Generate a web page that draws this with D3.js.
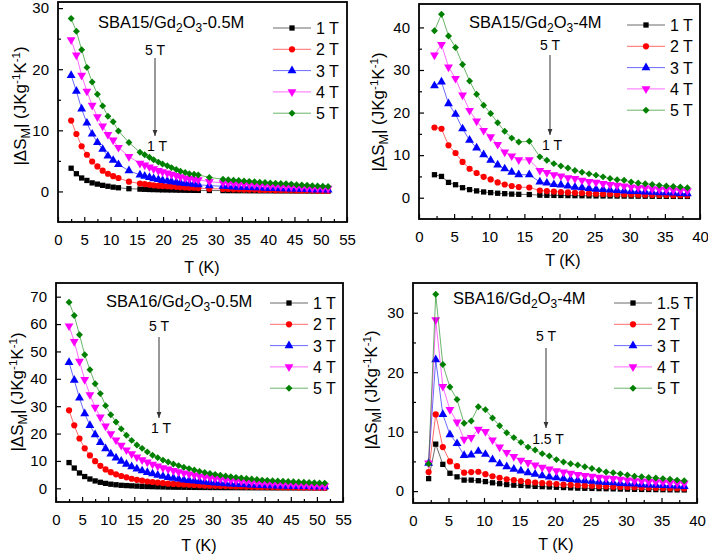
<!DOCTYPE html>
<html>
<head>
<meta charset="utf-8">
<script src="https://cdn.jsdelivr.net/npm/d3@7"></script>
<style>
body { margin: 0; background: #fff; }
text { font-family: Arial, "Liberation Sans", sans-serif; fill: #000; }
</style>
</head>
<body>
<div id="chart"></div>
<script>
// ---- SBA15/Gd2O3-0.5M ----
var tA = [2.5,3.5,4.5,5.5,6.5,7.5,8.5,9.5,10.5,11.5,13.5,
  15.6,16.5,17.4,18.2,19.1,19.9,20.8,21.6,22.5,23.3,24.2,25.0,25.9,26.7,28.8,
  31.4,32.4,33.4,34.4,35.4,36.4,37.4,38.4,39.4,40.4,41.4,42.4,43.4,44.4,45.4,46.4,47.4,48.4,49.4,50.4,51.4];
var a1T = [3.8,2.9,2.2,1.8,1.4,1.2,1.0,0.85,0.7,0.6,0.45,
  0.38,0.35,0.32,0.3,0.28,0.26,0.25,0.24,0.22,0.21,0.2,0.19,0.18,0.17,0.15,
  0.14,0.13,0.13,0.12,0.12,0.11,0.11,0.1,0.1,0.1,0.09,0.09,0.09,0.08,0.08,0.08,0.07,0.07,0.07,0.06,0.06];
var a2T = [11.6,9.4,7.4,6.0,4.9,4.1,3.4,2.9,2.5,2.2,1.6,
  1.3,1.2,1.1,1.0,0.95,0.9,0.85,0.8,0.75,0.7,0.65,0.6,0.6,0.55,0.45,
  0.4,0.4,0.35,0.35,0.3,0.3,0.3,0.25,0.25,0.25,0.2,0.2,0.2,0.2,0.15,0.15,0.15,0.15,0.1,0.1,0.1];
var a3T = [19.0,16.4,13.5,11.2,9.4,8.0,6.9,5.8,5.1,4.4,3.4,
  2.7,2.5,2.3,2.1,1.95,1.8,1.7,1.6,1.5,1.4,1.3,1.25,1.2,1.1,0.95,
  0.85,0.8,0.75,0.7,0.7,0.65,0.6,0.6,0.55,0.5,0.5,0.45,0.45,0.4,0.4,0.35,0.35,0.3,0.3,0.3,0.25];
var a4T = [24.8,22.3,19.0,16.4,14.1,12.2,10.7,9.3,8.4,7.2,5.7,
  4.6,4.3,4.0,3.7,3.4,3.2,3.0,2.8,2.6,2.4,2.2,2.1,2.0,1.9,1.6,
  1.4,1.35,1.3,1.25,1.2,1.15,1.1,1.05,1.0,0.95,0.9,0.85,0.8,0.8,0.75,0.7,0.65,0.6,0.6,0.55,0.5];
var a5T = [28.3,26.2,23.2,20.3,17.9,15.9,14.0,12.3,11.4,9.9,8.0,
  6.4,6.0,5.6,5.2,4.8,4.5,4.2,3.9,3.6,3.3,3.1,2.9,2.8,2.7,2.3,
  2.0,1.9,1.85,1.8,1.7,1.65,1.6,1.5,1.45,1.4,1.35,1.3,1.25,1.2,1.1,1.05,1.0,0.95,0.9,0.85,0.8];

// ---- SBA15/Gd2O3-4M ----
var tB = [2.2,3.2,4.2,5.2,6.2,7.2,8.2,9.2,10.2,11.2,12.2,13.2,14.2,15.7,
  17.2,18.2,19.2,20.2,21.2,22.2,23.2,24.2,25.2,26.2,27.2,28.2,29.2,30.2,31.2,32.2,33.2,34.2,35.2,36.2,37.2,38.2];
var b1T = [5.4,5.0,3.6,3.05,2.35,1.9,1.6,1.35,1.2,1.05,0.95,0.85,0.8,0.75,
  0.6,0.57,0.54,0.52,0.5,0.48,0.46,0.44,0.42,0.41,0.4,0.39,0.38,0.37,0.36,0.35,0.34,0.33,0.32,0.31,0.3,0.3];
var b2T = [16.5,16.2,12.3,10.5,8.4,6.8,5.8,4.9,4.3,3.6,3.1,2.75,2.5,2.4,
  1.7,1.55,1.45,1.35,1.25,1.15,1.1,1.0,0.95,0.9,0.85,0.8,0.78,0.75,0.72,0.7,0.67,0.65,0.62,0.6,0.58,0.55];
var b3T = [26.3,27.2,22.1,19.6,16.2,13.5,11.7,10.1,8.8,7.7,6.8,6.0,5.4,5.4,
  3.7,3.45,3.1,3.0,2.75,2.5,2.35,2.2,2.0,1.95,1.8,1.7,1.6,1.5,1.45,1.35,1.3,1.2,1.15,1.1,1.0,0.95];
var b4T = [33.5,36.0,30.7,28.0,24.1,20.5,18.0,15.8,14.3,12.5,10.7,9.8,8.9,8.9,
  6.4,5.9,5.4,5.1,4.7,4.5,4.1,3.8,3.6,3.3,3.1,2.9,2.75,2.5,2.35,2.3,2.1,2.0,1.9,1.8,1.7,1.65];
var b5T = [39.2,43.1,38.0,35.3,31.3,27.4,24.3,21.7,19.8,17.6,15.6,14.0,13.1,13.25,
  9.6,8.8,8.0,7.45,7.0,6.4,6.0,5.6,5.3,4.9,4.5,4.2,4.1,3.7,3.45,3.3,3.1,2.9,2.75,2.65,2.5,2.35];

// ---- SBA16/Gd2O3-0.5M ----
var tC = [2.5,3.5,4.5,5.5,6.5,7.5,8.5,9.5,10.5,11.5,12.5,13.5,14.5,15.5,16.5,17.5,18.5,19.5,20.5,21.5,
  22.5,23.5,24.5,25.5,26.5,27.5,28.5,29.5,30.5,31.5,32.5,33.5,34.5,35.5,36.5,37.5,38.5,39.5,40.5,41.5,
  42.5,43.5,44.5,45.5,46.5,47.5,48.5,49.5,50.5,51.5];
var c1T = [9.4,7.4,5.6,4.3,3.4,2.7,2.2,1.8,1.5,1.3,1.1,1.0,0.9,0.8,0.7,0.65,0.6,0.55,0.5,0.45,
  0.42,0.4,0.38,0.35,0.33,0.31,0.3,0.28,0.27,0.26,0.25,0.24,0.23,0.22,0.21,0.2,0.19,0.18,0.18,0.17,
  0.17,0.16,0.16,0.15,0.15,0.14,0.14,0.13,0.13,0.12];
var c2T = [28.5,23.0,18.2,14.6,12.0,9.9,8.2,6.9,5.9,5.1,4.5,4.0,3.5,3.1,2.8,2.5,2.3,2.1,1.9,1.7,
  1.6,1.5,1.4,1.3,1.2,1.1,1.0,0.95,0.9,0.85,0.8,0.75,0.7,0.65,0.6,0.55,0.5,0.5,0.45,0.45,
  0.4,0.4,0.35,0.35,0.3,0.3,0.3,0.25,0.25,0.25];
var c3T = [46.0,39.5,33.0,27.3,23.0,19.6,16.8,14.5,12.6,11.1,9.9,8.8,7.9,7.1,6.4,5.8,5.3,4.8,4.4,4.0,
  3.7,3.4,3.1,2.9,2.7,2.5,2.3,2.1,2.0,1.85,1.7,1.6,1.5,1.4,1.3,1.2,1.1,1.05,1.0,0.95,
  0.9,0.85,0.8,0.75,0.7,0.7,0.65,0.6,0.6,0.55];
var c4T = [59.3,53.6,46.4,39.7,34.2,29.6,26.0,22.7,19.9,17.6,15.7,14.0,12.6,11.4,10.4,9.6,8.8,8.1,7.5,7.0,
  6.5,6.0,5.6,5.2,4.8,4.5,4.2,3.9,3.6,3.4,3.2,3.0,2.8,2.6,2.4,2.3,2.1,2.0,1.9,1.8,
  1.7,1.6,1.5,1.4,1.3,1.2,1.1,1.0,0.95,0.9];
var c5T = [68.0,63.1,56.1,48.8,43.3,38.2,34.6,30.2,26.9,24.2,21.7,19.4,17.5,15.8,14.6,13.3,12.1,11.2,10.3,9.6,
  8.9,8.3,7.7,7.2,6.7,6.2,5.8,5.4,5.1,4.8,4.5,4.2,4.0,3.8,3.6,3.4,3.2,3.0,2.9,2.8,
  2.7,2.6,2.5,2.4,2.3,2.2,2.1,2.0,1.95,1.9];

// ---- SBA16/Gd2O3-4M ----
var tD = [2.2,3.2,4.2,5.2,6.2,7.2,8.2,9.2,10.2,11.2,12.2,13.2,14.2,15.2,16.2,17.2,18.2,19.2,20.2,21.2,
  22.2,23.2,24.2,25.2,26.2,27.2,28.2,29.2,30.2,31.2,32.2,33.2,34.2,35.2,36.2,37.2,38.2];
var d15T = [2.1,7.9,4.5,3.0,2.4,1.85,1.85,1.75,1.6,1.4,1.25,1.1,1.0,0.95,0.88,0.8,0.75,0.7,0.65,0.6,
  0.55,0.5,0.48,0.45,0.42,0.4,0.38,0.35,0.33,0.3,0.28,0.27,0.25,0.24,0.22,0.21,0.2];
var d2T = [3.2,12.9,7.4,5.0,4.2,3.1,3.2,3.25,2.85,2.5,2.25,2.0,1.85,1.7,1.55,1.45,1.35,1.3,1.2,1.1,
  1.05,1.0,0.95,0.9,0.85,0.8,0.75,0.7,0.68,0.65,0.6,0.58,0.55,0.52,0.5,0.48,0.45];
var d3T = [4.7,22.1,12.9,9.5,8.0,6.0,6.1,6.7,6.2,5.3,4.6,4.1,3.7,3.4,3.1,2.85,2.6,2.4,2.25,2.1,
  1.95,1.85,1.75,1.65,1.55,1.45,1.4,1.3,1.25,1.2,1.1,1.05,1.0,0.95,0.9,0.85,0.8];
var d4T = [4.7,28.8,17.6,13.7,11.6,8.7,9.0,10.4,10.0,8.6,7.4,6.5,5.8,5.2,4.8,4.4,4.0,3.7,3.4,3.2,
  3.0,2.8,2.6,2.5,2.3,2.2,2.1,2.0,1.85,1.75,1.7,1.6,1.55,1.5,1.4,1.35,1.3];
var d5T = [4.6,33.1,21.3,17.5,15.4,11.4,11.8,14.2,13.7,12.3,11.0,9.8,9.0,8.2,7.4,6.9,6.3,5.9,5.3,4.9,
  4.6,4.4,4.1,3.8,3.5,3.2,3.1,2.9,2.7,2.5,2.4,2.3,2.2,2.1,2.0,1.85,1.75];

var fieldsA = ["1 T","2 T","3 T","4 T","5 T"];
var fieldsD = ["1.5 T","2 T","3 T","4 T","5 T"];
var xTicks55 = [0,5,10,15,20,25,30,35,40,45,50,55];
var xTicks40 = [0,5,10,15,20,25,30,35,40];

var colors = ["#000000","#ff0000","#0000ff","#ff00ff","#008000"];

var svg = d3.select("#chart").append("svg")
    .attr("width", 708)
    .attr("height", 558);

var panels = [
  {title: ["SBA15/Gd","2","O","3","-0.5M"], T: tA, series: [a1T,a2T,a3T,a4T,a5T], names: fieldsA,
   left: 58, right: 347, top: 2, bottom: 222, xDom: [0,55], yDom: [-5,31],
   xTicks: xTicks55, yTicks: [0,10,20,30], yMinor: [5,15,25],
   titleX: 98, titleY: 28, legX: 273, legY: 28, ylabX: 26, ylabY: 106, xlabX: 202, xlabY: 273,
   arrow: {x: 155, t1: 55, y1: 58, y2: 136, t2: 151, lo: "1 T"}},
  {title: ["SBA15/Gd","2","O","3","-4M"], T: tB, series: [b1T,b2T,b3T,b4T,b5T], names: fieldsA,
   left: 419, right: 700, top: 4, bottom: 219, xDom: [0,40], yDom: [-5,45.5],
   xTicks: xTicks40, yTicks: [0,10,20,30,40], yMinor: [5,15,25,35],
   titleX: 469, titleY: 28, legX: 627, legY: 25, ylabX: 384, ylabY: 112, xlabX: 563, xlabY: 266,
   arrow: {x: 550, t1: 50, y1: 55, y2: 135, t2: 150, lo: "1 T"}},
  {title: ["SBA16/Gd","2","O","3","-0.5M"], T: tC, series: [c1T,c2T,c3T,c4T,c5T], names: fieldsA,
   left: 56, right: 343, top: 283, bottom: 502, xDom: [0,55], yDom: [-5,75],
   xTicks: xTicks55, yTicks: [0,10,20,30,40,50,60,70], yMinor: [],
   titleX: 106, titleY: 307, legX: 270, legY: 303, ylabX: 23, ylabY: 392, xlabX: 199, xlabY: 551,
   arrow: {x: 159, t1: 331, y1: 337, y2: 418, t2: 433, lo: "1 T"}},
  {title: ["SBA16/Gd","2","O","3","-4M"], T: tD, series: [d15T,d2T,d3T,d4T,d5T], names: fieldsD,
   left: 413, right: 697, top: 283, bottom: 503, xDom: [0,40], yDom: [-2,35],
   xTicks: xTicks40, yTicks: [0,10,20,30], yMinor: [5,15,25],
   titleX: 453, titleY: 304, legX: 614, legY: 303, ylabX: 377, ylabY: 390, xlabX: 556, xlabY: 550,
   arrow: {x: 546, t1: 341, y1: 348, y2: 428, t2: 444, lo: "1.5 T"}}
];

svg.append("defs").append("marker")
    .attr("id", "arrowhead")
    .attr("viewBox", "0 0 10 10")
    .attr("refX", 10).attr("refY", 5)
    .attr("markerWidth", 6).attr("markerHeight", 6)
    .attr("orient", "auto")
  .append("path")
    .attr("d", "M0,1 L10,5 L0,9 Z")
    .attr("fill", "#333");

function symbolPath(k) {
    if (k === 0) return d3.symbol().type(d3.symbolSquare).size(28)();
    if (k === 1) return d3.symbol().type(d3.symbolCircle).size(30)();
    if (k === 2 || k === 3) return d3.symbol().type(d3.symbolTriangle).size(34)();
    return d3.symbol().type(d3.symbolSquare).size(24)();
}
function symbolRot(k) {
    if (k === 3) return " rotate(180)";
    if (k === 4) return " rotate(45)";
    return "";
}

function drawPanel(p) {
    var x = d3.scaleLinear().domain(p.xDom).range([p.left, p.right]);
    var y = d3.scaleLinear().domain(p.yDom).range([p.bottom, p.top]);
    var g = svg.append("g");

    // series: line + markers
    p.series.forEach(function(vals, k) {
        var pts = p.T.map(function(t, i) { return [t, vals[i]]; });
        g.append("path")
            .datum(pts)
            .attr("fill", "none")
            .attr("stroke", colors[k])
            .attr("stroke-width", 0.9)
            .attr("stroke-opacity", 0.65)
            .attr("d", d3.line()
                .x(function(d) { return x(d[0]); })
                .y(function(d) { return y(d[1]); }));
        g.selectAll(".m" + k)
            .data(pts)
            .enter().append("path")
            .attr("class", "m" + k)
            .attr("d", symbolPath(k))
            .attr("fill", colors[k])
            .attr("transform", function(d) {
                return "translate(" + x(d[0]) + "," + y(d[1]) + ")" + symbolRot(k);
            });
    });

    // axes (ticks point inward)
    var minorX = [];
    for (var i = 0; i < p.xTicks.length - 1; i++) minorX.push((p.xTicks[i] + p.xTicks[i + 1]) / 2);
    g.append("g")
        .attr("transform", "translate(0," + p.bottom + ")")
        .call(d3.axisBottom(x).tickValues(p.xTicks).tickSize(-5).tickPadding(12));
    g.append("g")
        .attr("transform", "translate(0," + p.bottom + ")")
        .call(d3.axisBottom(x).tickValues(minorX).tickSize(-3).tickFormat(""));
    g.append("g")
        .attr("transform", "translate(" + p.left + ",0)")
        .call(d3.axisLeft(y).tickValues(p.yTicks).tickSize(-5).tickPadding(9));
    g.append("g")
        .attr("transform", "translate(" + p.left + ",0)")
        .call(d3.axisLeft(y).tickValues(p.yMinor).tickSize(-3).tickFormat(""));
    g.selectAll(".domain").remove();
    g.selectAll(".tick line").attr("stroke", "#000").attr("stroke-width", 1.2);
    g.selectAll(".tick text")
        .style("font-family", "Arial, 'Liberation Sans', sans-serif")
        .attr("font-size", 15)
        .attr("fill", "#000");

    // frame
    g.append("rect")
        .attr("x", p.left).attr("y", p.top)
        .attr("width", p.right - p.left).attr("height", p.bottom - p.top)
        .attr("fill", "none").attr("stroke", "#000").attr("stroke-width", 1.8);

    // title with subscripts
    var tt = g.append("text").attr("x", p.titleX).attr("y", p.titleY).attr("font-size", 16.5);
    tt.append("tspan").text(p.title[0]);
    tt.append("tspan").attr("dy", 4).attr("font-size", 12).text(p.title[1]);
    tt.append("tspan").attr("dy", -4).text(p.title[2]);
    tt.append("tspan").attr("dy", 4).attr("font-size", 12).text(p.title[3]);
    tt.append("tspan").attr("dy", -4).text(p.title[4]);

    // legend
    p.names.forEach(function(nm, k) {
        var ly = p.legY + k * 21.3;
        g.append("line")
            .attr("x1", p.legX).attr("x2", p.legX + 38)
            .attr("y1", ly).attr("y2", ly)
            .attr("stroke", colors[k]).attr("stroke-width", 0.9).attr("stroke-opacity", 0.65);
        g.append("path")
            .attr("d", symbolPath(k))
            .attr("fill", colors[k])
            .attr("transform", "translate(" + (p.legX + 19) + "," + ly + ")" + symbolRot(k));
        g.append("text")
            .attr("x", p.legX + 43).attr("y", ly + 6)
            .attr("font-size", 16)
            .text(nm);
    });

    // arrow annotation
    var a = p.arrow;
    g.append("text").attr("x", a.x).attr("y", a.t1).attr("text-anchor", "middle")
        .attr("font-size", 14).text("5 T");
    g.append("line")
        .attr("x1", a.x).attr("x2", a.x).attr("y1", a.y1).attr("y2", a.y2)
        .attr("stroke", "#333").attr("stroke-width", 1)
        .attr("marker-end", "url(#arrowhead)");
    g.append("text").attr("x", a.x + 2).attr("y", a.t2).attr("text-anchor", "middle")
        .attr("font-size", 14).text(a.lo);

    // axis titles
    g.append("text")
        .attr("x", p.xlabX).attr("y", p.xlabY)
        .attr("text-anchor", "middle").attr("font-size", 16)
        .text("T (K)");
    var yl = g.append("text")
        .attr("transform", "translate(" + p.ylabX + "," + p.ylabY + ") rotate(-90)")
        .attr("text-anchor", "middle").attr("font-size", 17);
    yl.append("tspan").text("|ΔS");
    yl.append("tspan").attr("dy", 4).attr("font-size", 12.5).text("M");
    yl.append("tspan").attr("dy", -4).text("|  (JKg");
    yl.append("tspan").attr("dy", -6).attr("font-size", 11.5).text("-1");
    yl.append("tspan").attr("dy", 6).text("K");
    yl.append("tspan").attr("dy", -6).attr("font-size", 11.5).text("-1");
    yl.append("tspan").attr("dy", 6).text(")");
}

panels.forEach(drawPanel);
</script>
</body>
</html>
